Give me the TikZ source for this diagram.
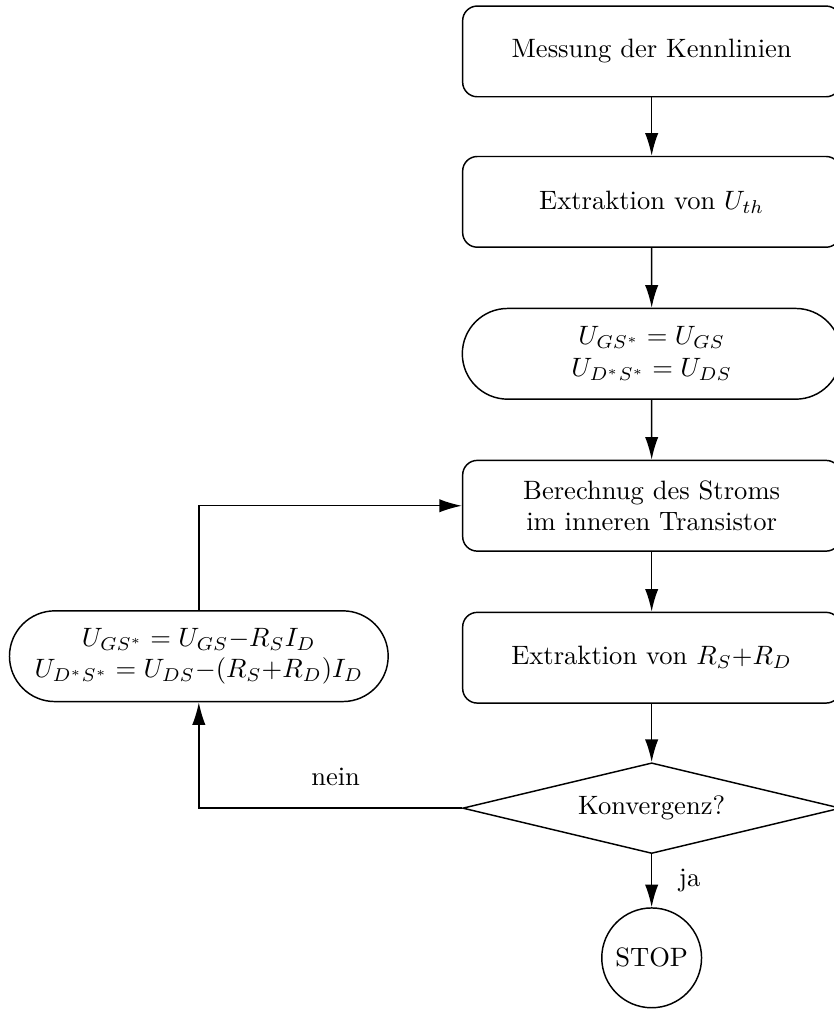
\documentclass[tikz,border=0pt]{standalone}
\usetikzlibrary{shapes.geometric,shapes.misc,arrows.meta}
\begin{document}
\begin{tikzpicture}[line width=0.55pt,
  stepbox/.style={draw, rounded corners=5.5pt, minimum width=5cm, minimum height=1.2cm, align=center, inner sep=2pt},
  stadium/.style={draw, rounded rectangle, minimum width=5.15cm, minimum height=1.2cm, align=center, inner sep=2pt},
  decide/.style={draw, diamond, aspect=4, minimum width=5cm, minimum height=1.2cm, inner sep=0pt},
  stopnode/.style={draw, circle, minimum size=1.32cm, inner sep=0pt},
  arr/.style={-{Latex[length=8.5pt,width=5pt]}},
  lbl/.style={inner sep=2pt}
]
\useasboundingbox (0,0) rectangle (11.03,-13.36);
\node[stepbox] (n1) at (8.62,-0.68) {Messung der Kennlinien};
\node[stepbox] (n2) at (8.62,-2.67) {Extraktion von $U_{th}$};
\node[stadium] (n3) at (8.62,-4.68) {$U_{GS^*} = U_{GS}$\\ $U_{D^*S^*} = U_{DS}$};
\node[stepbox] (n4) at (8.62,-6.69) {Berechnug des Stroms\\ im inneren Transistor};
\node[stepbox] (n5) at (8.62,-8.70) {Extraktion von $R_S{+}R_D$};
\node[decide] (d) at (8.62,-10.69) {Konvergenz?};
\node[stopnode] (s) at (8.62,-12.67) {STOP};
\node[stadium] (l) at (2.63,-8.68) {$U_{GS^*} = U_{GS}{-}R_S I_D$\\ $U_{D^*S^*} = U_{DS}{-}(R_S{+}R_D)I_D$};
\draw[arr] (n1) -- (n2);
\draw[arr] (n2) -- (n3);
\draw[arr] (n3) -- (n4);
\draw[arr] (n4) -- (n5);
\draw[arr] (n5) -- (d);
\draw[arr] (d) -- node[lbl, right=8pt] {ja} (s);
\draw[arr] (d.west) -| node[lbl, pos=0.24, above=6pt] {nein} (l.south);
\draw[arr] (l.north) |- (n4.west);
\end{tikzpicture}
\end{document}
